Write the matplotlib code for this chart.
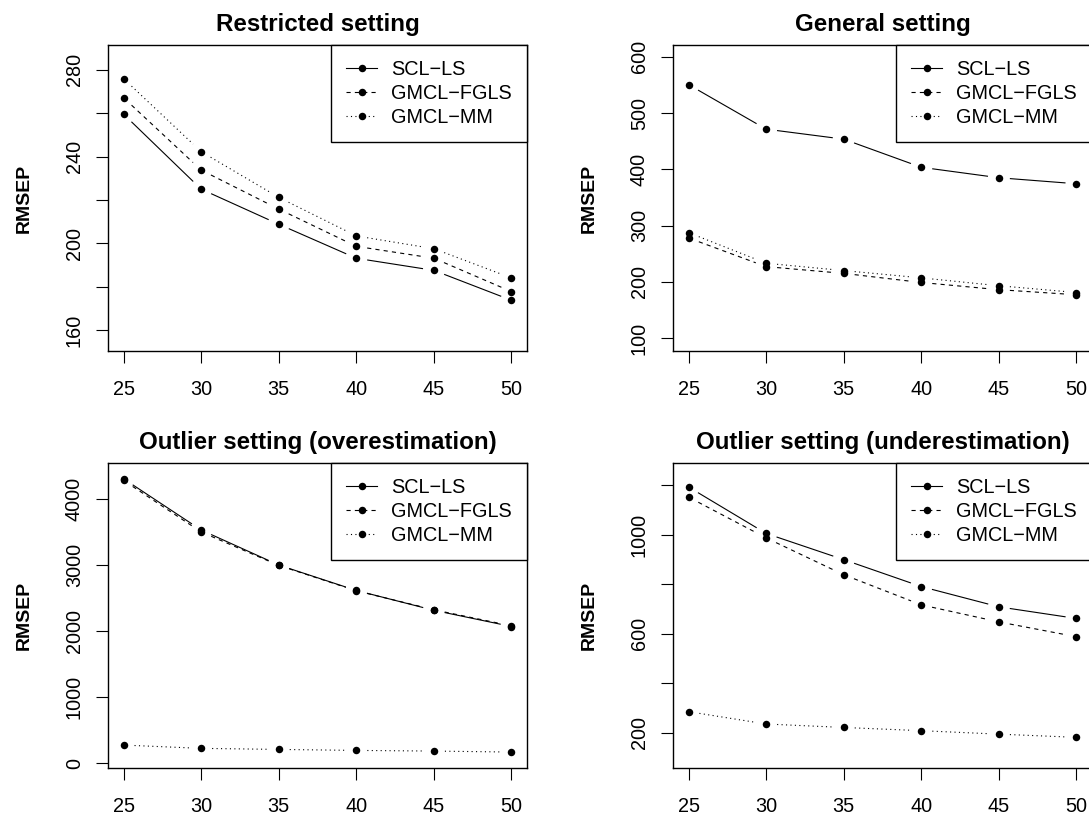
import numpy as np
import matplotlib
matplotlib.use("Agg")
import matplotlib.pyplot as plt
from matplotlib.lines import Line2D

plt.rcParams['font.family'] = ['Liberation Sans', 'DejaVu Sans']
plt.rcParams['lines.scale_dashes'] = False

n_obs = [25, 30, 35, 40, 45, 50]
methods = ["SCL\u2212LS", "GMCL\u2212FGLS", "GMCL\u2212MM"]

# RMSEP per setting, one list per method
restricted_scl = [259.6, 225.0, 208.8, 193.1, 187.5, 173.7]
restricted_fgls = [267.2, 233.8, 215.8, 198.6, 193.1, 177.7]
restricted_mm = [276.0, 242.3, 221.2, 203.4, 197.5, 184.0]

general_scl = [550.6, 471.4, 453.6, 403.6, 385.0, 374.3]
general_fgls = [278.0, 227.0, 215.0, 198.8, 186.0, 177.0]
general_mm = [287.5, 233.0, 220.0, 207.0, 193.0, 181.0]

over_scl = [4300, 3525, 2995, 2610, 2310, 2065]
over_fgls = [4275, 3495, 2990, 2605, 2318, 2075]
over_mm = [272, 222, 206, 191, 181, 166]

under_scl = [1194, 1006, 900, 791, 709, 662]
under_fgls = [1153, 988, 839, 717, 648, 588]
under_mm = [285, 235, 221, 208, 194, 181]

titles = ["Restricted setting", "General setting",
          "Outlier setting (overestimation)", "Outlier setting (underestimation)"]

W, H = 1089, 816
fig = plt.figure(figsize=(W / 100, H / 100), dpi=100)

# axes boxes in pixels: left, top, right, bottom
boxes = [(108, 45, 527, 351), (673, 45, 1092, 351),
         (108, 463, 527, 768), (673, 463, 1092, 768)]
ylims = [(150.3, 291.5), (77, 621), (-75, 4538), (57, 1291)]
yticks = [np.arange(160, 281, 20), np.arange(100, 601, 100),
          np.arange(0, 4001, 1000), np.arange(200, 1201, 200)]
ylabeled = [[160, 200, 240, 280], list(range(100, 601, 100)),
            list(range(0, 4001, 1000)), [200, 600, 1000]]
data = [(restricted_scl, restricted_fgls, restricted_mm),
        (general_scl, general_fgls, general_mm),
        (over_scl, over_fgls, over_mm),
        (under_scl, under_fgls, under_mm)]

styles = ['-', (0, (3.0, 3.0)), (0, (0.8, 2.4))]
LW = 0.8


def draw_b(ax, x, y, ls, gap=11):
    # R's type="b": segments stop short of the points
    pts = ax.transData.transform(np.column_stack([x, y]))
    inv = ax.transData.inverted()
    for p0, p1 in zip(pts[:-1], pts[1:]):
        d = p1 - p0
        L = np.hypot(*d)
        if L <= 2 * gap:
            continue
        u = d / L
        seg = inv.transform(np.array([p0 + u * gap, p1 - u * gap]))
        ax.plot(seg[:, 0], seg[:, 1], color='black', lw=LW, linestyle=ls,
                solid_capstyle='butt', dash_capstyle='butt')
    ax.plot(x, y, 'o', color='black', ms=5.4, mew=0)


for i in range(4):
    l, t, r, b = boxes[i]
    ax = fig.add_axes([l / W, 1 - b / H, (r - l) / W, (b - t) / H])
    ax.set_xlim(24, 51)
    ax.set_ylim(*ylims[i])
    for ser, ls in zip(data[i], styles):
        draw_b(ax, n_obs, ser, ls)

    ax.set_xticks(n_obs)
    ax.set_yticks(yticks[i])
    ax.set_yticklabels([str(v) if v in ylabeled[i] else "" for v in yticks[i]])
    ax.tick_params(axis='both', direction='out', length=8.8, width=0.8,
                   labelsize=14.3, color='black')
    ax.tick_params(axis='x', pad=12)
    ax.tick_params(axis='y', pad=8.5)
    for lab in ax.get_yticklabels():
        lab.set_rotation(90)
        lab.set_va('center')
    for sp in ax.spines.values():
        sp.set_linewidth(1.0)

    ax.set_title(titles[i], fontsize=17.4, fontweight='bold', pad=10)
    ax.set_ylabel("RMSEP", fontsize=14, fontweight='bold')
    ax.yaxis.set_label_coords(-0.179, 0.5)

    handles = [Line2D([0], [0], color='black', lw=LW, linestyle=ls,
                      marker='o', ms=5.4, mew=0) for ls in styles]
    leg = ax.legend(handles, methods, loc='upper right', bbox_to_anchor=(1, 1),
                    borderaxespad=0, fancybox=False, framealpha=1,
                    edgecolor='black', fontsize=14.3, handlelength=1.6,
                    handletextpad=0.7, labelspacing=0.25, borderpad=0.75,
                    numpoints=1)
    leg.get_frame().set_linewidth(1.0)

fig.savefig("out.png", dpi=100)
